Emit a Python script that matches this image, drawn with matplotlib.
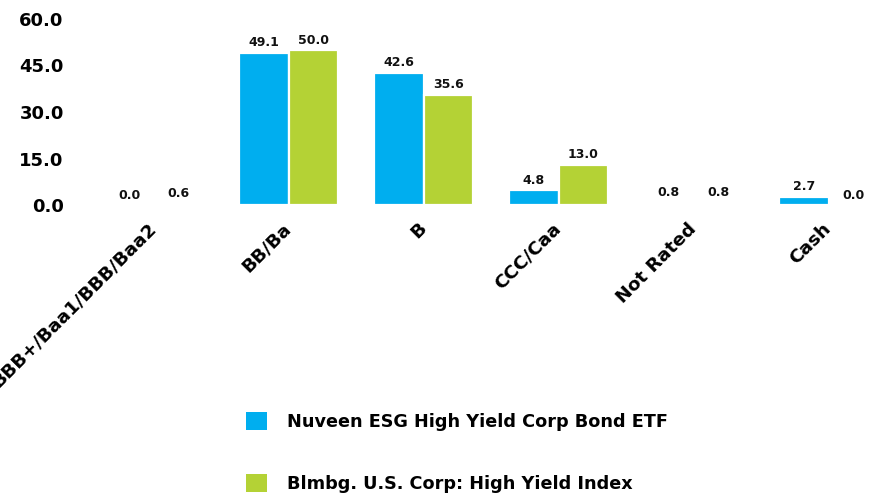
import numpy as np
import matplotlib.pyplot as plt
from matplotlib.patches import Patch

categorias = ['BBB+/Baa1/BBB/Baa2', 'BB/Ba', 'B', 'CCC/Caa', 'Not Rated', 'Cash']
etf = [0.0, 49.1, 42.6, 4.8, 0.8, 2.7]
indice = [0.6, 50.0, 35.6, 13.0, 0.8, 0.0]
series = ['Nuveen ESG High Yield Corp Bond ETF', 'Blmbg. U.S. Corp: High Yield Index']
yticks = [0, 15, 30, 45, 60]

azul = '#00AEEF'
verde = '#B4D235'

plt.rcParams['font.family'] = ['DejaVu Sans']
plt.rcParams['font.weight'] = 'bold'

fig = plt.figure(figsize=(8.69, 4.93), dpi=100)
ax = fig.add_axes([70/869, 1-205/493, (869-70)/869, (205-19)/493])

X = np.arange(len(categorias))
w = 0.365
ax.bar(X - w/2, etf, width=w, color=azul, edgecolor='white', linewidth=1.6)
ax.bar(X + w/2, indice, width=w, color=verde, edgecolor='white', linewidth=1.6)

for xs, vals in ((X - w/2, etf), (X + w/2, indice)):
    for x, v in zip(xs, vals):
        ax.annotate('%.1f' % v, (x, v), xytext=(0, 2.5), textcoords='offset points',
                    ha='center', va='bottom', fontsize=9, fontweight='bold', color='#111111')

ax.set_xlim(-0.62, 5.30)
ax.set_ylim(0, 60)
ax.set_yticks(yticks)
ax.set_yticklabels(['%.1f' % t for t in yticks], fontsize=13, fontweight='bold')
ax.set_xticks(X)
ax.set_xticklabels(categorias, rotation=45, ha='right', va='center', rotation_mode='anchor',
                   fontsize=13.3, fontweight='bold')
ax.tick_params(axis='both', length=0)
ax.tick_params(axis='x', pad=15)
ax.tick_params(axis='y', pad=4.5)
for s in ax.spines.values():
    s.set_visible(False)

handles = [Patch(facecolor=azul, label=series[0]), Patch(facecolor=verde, label=series[1])]
leg = fig.legend(handles=handles, loc='upper left', bbox_to_anchor=(246/869, 1-412/493),
                 frameon=False, fontsize=12.7, handlelength=1.2, handleheight=1.2,
                 handletextpad=1.1, labelspacing=2.45, borderaxespad=0, borderpad=0)
for t in leg.get_texts():
    t.set_fontweight('bold')

fig.savefig('out.png', dpi=100)
